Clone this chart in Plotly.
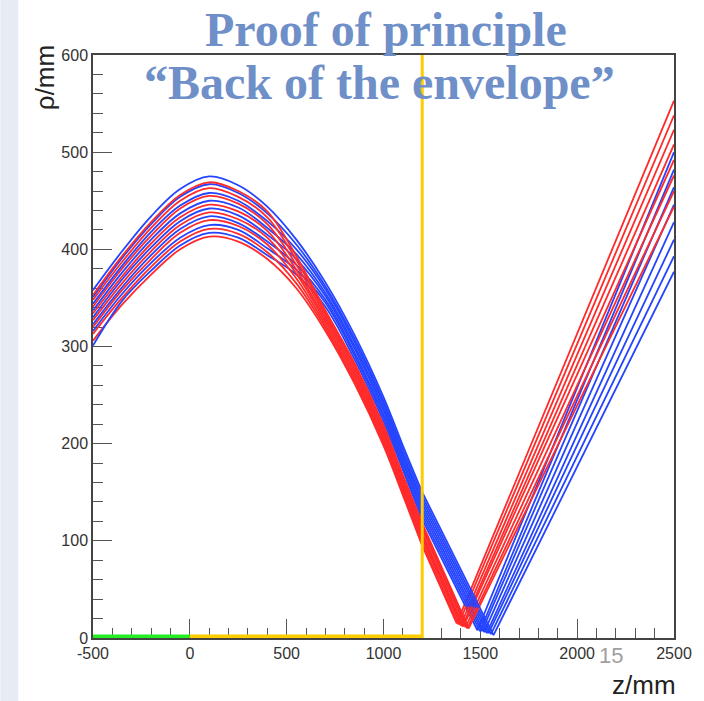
import plotly.graph_objects as go

# ---------------- data ----------------
Z_GRID = [-500, -350, -200, -50, 100, 250, 400, 550, 700, 850, 1000, 1100, 1200]  # mm, inside field
Z_END = 2500

RED_RHO = [
    [306, 343, 374, 400, 413, 408, 390, 360, 316, 262, 198, 147, 95],
    [313, 350, 382, 408, 421, 416, 397, 365, 319, 265, 201, 150, 98],
    [320, 358, 390, 417, 430, 424, 405, 370, 322, 268, 204, 153, 102],
    [327, 365, 398, 425, 438, 431, 412, 375, 325, 271, 207, 156, 105],
    [334, 372, 406, 433, 446, 439, 419, 379, 328, 274, 210, 159, 108],
    [341, 380, 414, 442, 455, 447, 426, 384, 331, 277, 213, 162, 112],
    [348, 387, 422, 450, 463, 454, 433, 389, 334, 280, 216, 165, 115],
    [353, 393, 428, 456, 469, 460, 439, 393, 337, 283, 219, 168, 118],
]
RED_ZMIN = [1378, 1387, 1398, 1407, 1413, 1424, 1433, 1440]
RED_RHOMIN = [15, 14, 13, 12, 12, 11, 10, 10]
RED_END = [553, 538, 523, 508, 492, 476, 460, 444]

BLUE_RHO = [
    [301, 347, 378, 404, 417, 412, 394, 374, 341, 287, 223, 173, 122],
    [316, 354, 386, 412, 425, 420, 401, 379, 345, 291, 227, 176, 126],
    [323, 361, 394, 421, 434, 427, 408, 384, 348, 294, 230, 180, 130],
    [330, 369, 402, 429, 442, 435, 415, 390, 352, 298, 234, 183, 134],
    [337, 376, 410, 437, 450, 443, 422, 395, 355, 301, 237, 187, 138],
    [344, 383, 418, 445, 458, 450, 429, 400, 359, 305, 241, 190, 142],
    [351, 391, 426, 454, 467, 458, 437, 405, 362, 308, 244, 194, 146],
    [358, 398, 434, 462, 475, 466, 444, 410, 366, 312, 248, 198, 150],
]
BLUE_ZMIN = [1485, 1498, 1508, 1520, 1533, 1543, 1555, 1568]
BLUE_RHOMIN = [8, 7, 7, 6, 5, 5, 4, 3]
BLUE_END = [500, 482, 464, 446, 428, 410, 393, 377]

DETECTOR_Z = 1200
GREEN_RANGE = [-500, 0]
YELLOW_RANGE = [0, 1200]

X_TICKS = [-500, 0, 500, 1000, 1500, 2000, 2500]
X_TICK_LABELS = ["-500", "0", "500", "1000", "1500", "2000", "2500"]
Y_TICKS = [0, 100, 200, 300, 400, 500, 600]
Y_TICK_LABELS = ["0", "100", "200", "300", "400", "500", "600"]

TITLE_1 = "Proof of principle"
TITLE_2 = "\u201cBack of the envelope\u201d"
X_LABEL = "z/mm"
Y_LABEL = "\u03c1/mm"
PAGE_NO = "15"

# ---------------- styles ----------------
RED = "#ff2a2a"
BLUE = "#2444ff"
LINE_W = 1.8
W, H = 704, 701
ML, MR, MT, MB = 93, 28, 55, 63
PW, PH = W - ML - MR, H - MT - MB


def px_x(px):
    return (px - ML) / PW


def px_y(py):
    return (H - MB - py) / PH


fig = go.Figure()


def add_track(rho, zmin, rhomin, rend, color):
    fig.add_trace(go.Scatter(x=Z_GRID, y=rho, mode="lines",
                             line=dict(color=color, width=LINE_W, shape="spline", smoothing=1.0),
                             showlegend=False, hoverinfo="skip"))
    fig.add_trace(go.Scatter(x=[Z_GRID[-1], zmin, Z_END], y=[rho[-1], rhomin, rend], mode="lines",
                             line=dict(color=color, width=LINE_W),
                             showlegend=False, hoverinfo="skip"))


for i in range(len(RED_RHO)):
    add_track(RED_RHO[i], RED_ZMIN[i], RED_RHOMIN[i], RED_END[i], RED)
    add_track(BLUE_RHO[i], BLUE_ZMIN[i], BLUE_RHOMIN[i], BLUE_END[i], BLUE)

# coloured markers on the axis (half clipped by the frame) and detector line
fig.add_trace(go.Scatter(x=GREEN_RANGE, y=[0, 0], mode="lines",
                         line=dict(color="#22ee22", width=7), showlegend=False))
fig.add_trace(go.Scatter(x=YELLOW_RANGE, y=[0, 0], mode="lines",
                         line=dict(color="#ffcc00", width=7), showlegend=False))
fig.add_trace(go.Scatter(x=[DETECTOR_Z, DETECTOR_Z], y=[0, 600], mode="lines",
                         line=dict(color="#ffcc00", width=3), showlegend=False))

tickfont = dict(family="Liberation Sans, Arial, sans-serif", size=16, color="#333333")

fig.update_xaxes(range=[-500, 2500], tickvals=X_TICKS, ticktext=X_TICK_LABELS,
                 ticks="inside", ticklen=19, tickwidth=1, tickcolor="#555555",
                 minor=dict(ticks="inside", ticklen=10, dtick=100, tickcolor="#555555"),
                 showline=True, linecolor="#444444", linewidth=1.5, mirror=True,
                 layer="below traces",
                 showgrid=False, zeroline=False, tickfont=tickfont)
fig.update_yaxes(range=[0, 600], tickvals=Y_TICKS, ticktext=Y_TICK_LABELS,
                 ticks="inside", ticklen=19, tickwidth=1, tickcolor="#555555",
                 minor=dict(ticks="inside", ticklen=10, dtick=20, tickcolor="#555555"),
                 showline=True, linecolor="#444444", linewidth=1.5, mirror=True,
                 layer="below traces",
                 showgrid=False, zeroline=False, tickfont=tickfont)

title_font = dict(family="Liberation Serif, DejaVu Serif, serif", size=48, color="#6f8fc8",
                  weight="bold")

fig.update_layout(
    width=W, height=H,
    margin=dict(l=ML, r=MR, t=MT, b=MB),
    paper_bgcolor="white", plot_bgcolor="white",
    shapes=[dict(type="rect", xref="paper", yref="paper", layer="below",
                 x0=px_x(0), x1=px_x(18), y0=px_y(H), y1=px_y(0),
                 fillcolor="#e6ecf4", line=dict(width=0))],
    annotations=[
        dict(text=TITLE_1, xref="paper", yref="paper", x=px_x(387), y=px_y(29),
             showarrow=False, font=title_font, xanchor="center", yanchor="middle"),
        dict(text=TITLE_2, xref="paper", yref="paper", x=px_x(380), y=px_y(82),
             showarrow=False, font=title_font, xanchor="center", yanchor="middle"),
        dict(text=Y_LABEL, xref="paper", yref="paper", x=px_x(45), y=px_y(78),
             showarrow=False, textangle=-90, xanchor="center", yanchor="middle",
             font=dict(family="Liberation Sans, Arial, sans-serif", size=26, color="#222222")),
        dict(text=X_LABEL, xref="paper", yref="paper", x=px_x(680), y=px_y(685),
             showarrow=False, xanchor="right", yanchor="middle",
             font=dict(family="Liberation Sans, Arial, sans-serif", size=26, color="#222222")),
        dict(text=PAGE_NO, xref="paper", yref="paper", x=px_x(613), y=px_y(655),
             showarrow=False, xanchor="center", yanchor="middle",
             font=dict(family="Liberation Sans, Arial, sans-serif", size=22, color="#a0a0a0")),
    ],
)

fig.write_html("out.html")
